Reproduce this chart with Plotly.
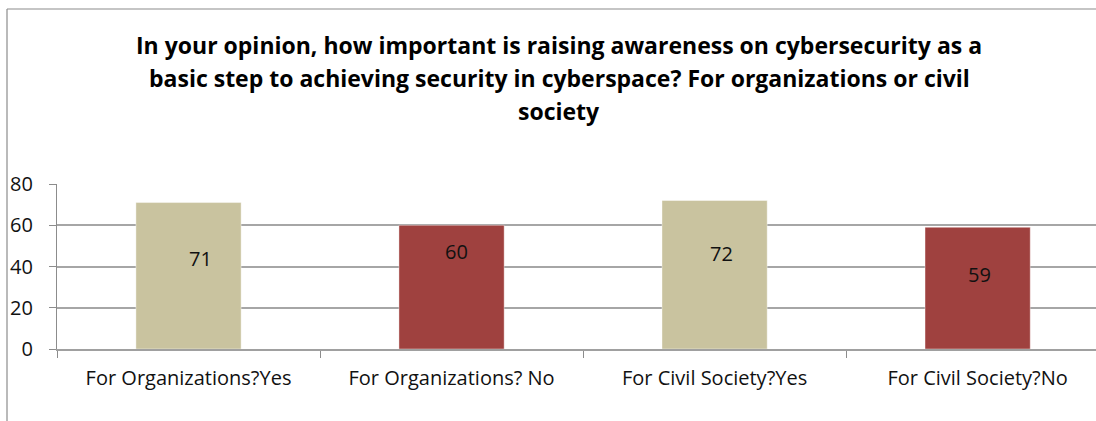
import plotly.graph_objects as go

categories = ["For Organizations?Yes", "For Organizations? No", "For Civil Society?Yes", "For Civil Society?No"]
values = [71, 60, 72, 59]
bar_colors = ["#C9C39F", "#9F413F", "#C9C39F", "#9F413F"]
label_y = [44, 47.4, 46.5, 36.3]      # label anchor heights (data units), as placed in the source
label_dx = [12, 5, 7, 2]              # px offsets of labels from bar centre

title_lines = [
    "In your opinion, how important is raising awareness on cybersecurity as a",
    "basic step to achieving security in cyberspace? For organizations or civil",
    "society",
]
title_line_px = [45, 78, 111]          # vertical centres of the title lines (page px)

FONT = "Open Sans"

fig = go.Figure()
fig.add_trace(go.Bar(
    x=categories, y=values, width=0.4,
    marker=dict(color=bar_colors, line=dict(color="rgba(255,255,255,0.4)", width=1)),
    showlegend=False, hoverinfo="x+y",
))

for c, v, ly, dx in zip(categories, values, label_y, label_dx):
    fig.add_annotation(x=c, y=ly, text=str(v), showarrow=False, xshift=dx,
                       font=dict(family=FONT, size=20, color="#111111"))

L, T, B, R = 57, 184, 72, 0
W, H = 1096, 421
pw = W - L - R
ph = H - T - B

def px_to_paper_y(p):
    return (H - B - p) / ph

def px_to_paper_x(p):
    return (p - L) / pw

for line, py in zip(title_lines, title_line_px):
    fig.add_annotation(xref="paper", yref="paper", x=px_to_paper_x(559), y=px_to_paper_y(py),
                       xanchor="center", yanchor="middle", text=line, showarrow=False,
                       font=dict(family=FONT, size=23, color="#000000", weight="bold"))

# outer chart frame (left and top edges visible)
fx = px_to_paper_x(7)
fy = px_to_paper_y(9)
fig.add_shape(type="line", xref="paper", yref="paper", x0=fx, x1=1.2, y0=fy, y1=fy,
              line=dict(color="#8C8C8C", width=1.2))
fig.add_shape(type="line", xref="paper", yref="paper", x0=fx, x1=fx, y0=fy, y1=-1,
              line=dict(color="#8C8C8C", width=1.2))

fig.update_layout(
    width=W, height=H,
    margin=dict(l=L, r=R, t=T, b=B, autoexpand=False),
    plot_bgcolor="white", paper_bgcolor="white",
    font=dict(family=FONT, size=20, color="#111111"),
    bargap=0.6,
)
fig.update_xaxes(
    type="category", range=[-0.5, 3.45], tickson="boundaries",
    ticks="outside", ticklen=7, tickcolor="#8C8C8C", tickwidth=1.2,
    showline=True, linecolor="#A0A0A0", linewidth=1.5,
    showgrid=False, ticklabelstandoff=10,
    tickfont=dict(family=FONT, size=20, color="#111111"),
)
fig.update_yaxes(
    range=[0, 80], tickvals=[0, 20, 40, 60, 80],
    ticks="outside", ticklen=7, tickcolor="#8C8C8C", tickwidth=1.2,
    showline=True, linecolor="#8C8C8C", linewidth=1.2,
    showgrid=True, gridcolor="#A6A6A6", gridwidth=1.5,
    zeroline=False, ticklabelstandoff=12,
    tickfont=dict(family=FONT, size=20, color="#111111"),
)

fig.write_html("out.html", config={"displayModeBar": False},
               post_script="document.body.style.margin='0';")
